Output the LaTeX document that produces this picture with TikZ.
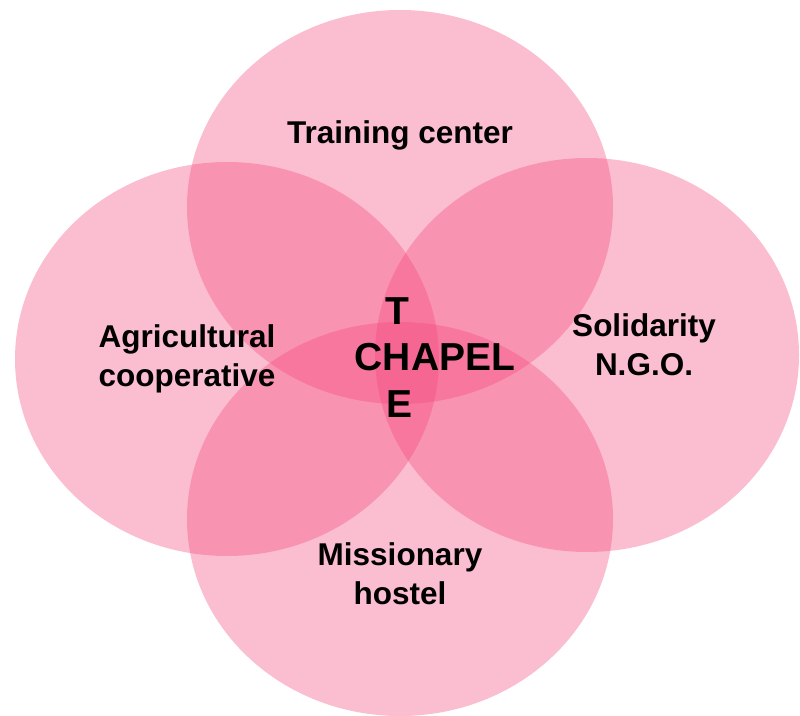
\documentclass[tikz,border=0pt]{standalone}
\usepackage{fontspec}
\setmainfont{Liberation Sans}
\definecolor{petal}{RGB}{244,72,124}
\begin{document}
\begin{tikzpicture}[x=1pt,y=-1pt,
  petalfill/.style={fill=petal,fill opacity=0.36},
  lbl/.style={font=\bfseries\fontsize{31.5}{39}\selectfont,align=center,text=black,inner sep=0pt},
  big/.style={font=\bfseries\fontsize{39}{46}\selectfont,text=black,inner sep=0pt}]
\useasboundingbox (0,0) rectangle (800,715);
\fill[petalfill] (400,207) ellipse [x radius=213, y radius=197];
\fill[petalfill] (227,359) ellipse [x radius=212, y radius=197];
\fill[petalfill] (587,355) ellipse [x radius=212, y radius=197];
\fill[petalfill] (400,519) ellipse [x radius=213, y radius=197];
\node[lbl] (training) at (400,135) {Training center};
\node[lbl] (agri) at (187,359) {Agricultural\\cooperative};
\node[lbl] (ngo) at (644,345) {Solidarity\\N.G.O.};
\node[lbl] (hostel) at (400,574) {Missionary\\hostel};
\node[big] (t) at (397,311) {T};
\node[big] (chapel) at (435,357) {CHAPEL};
\node[big] (e) at (400,404) {E};
\end{tikzpicture}
\end{document}
